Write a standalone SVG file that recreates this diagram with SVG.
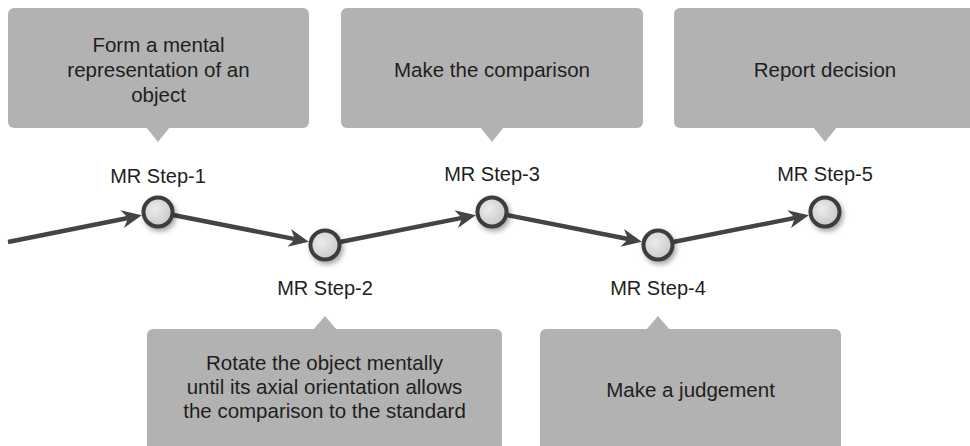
<svg xmlns="http://www.w3.org/2000/svg" width="970" height="446" viewBox="0 0 970 446">
<defs>
<style>
.box{fill:#b2b2b2}
.txt{font-family:"Liberation Sans",Arial,sans-serif;font-size:20.5px;fill:#1e1e1e;text-anchor:middle}
.lbl{font-family:"Liberation Sans",Arial,sans-serif;font-size:20px;fill:#1e1e1e;text-anchor:middle}
.conn{stroke:#444;stroke-width:4.5;fill:none;marker-end:url(#ah)}
.node{fill:url(#ng);stroke:#3c3c3c;stroke-width:4;filter:url(#sh)}
</style>
<radialGradient id="ng" cx="0.4" cy="0.4" r="0.7">
<stop offset="0" stop-color="#ececec"/>
<stop offset="1" stop-color="#c4c4c4"/>
</radialGradient>
<filter id="sh" x="-50%" y="-50%" width="200%" height="200%">
<feDropShadow dx="2" dy="3" stdDeviation="2.5" flood-color="#000" flood-opacity="0.35"/>
</filter>
<marker id="ah" markerUnits="userSpaceOnUse" viewBox="0 -10 22 20" refX="6" refY="0" markerWidth="22" markerHeight="20" orient="auto">
<path d="M0,-9 L20,0 L0,9 L6,0 Z" fill="#444"/>
</marker>
</defs>

<g id="callout-1">
<rect class="box" x="8" y="8" width="301" height="120" rx="6"/>
<polygon class="box" points="146,127 170,127 158,142"/>
<text class="txt" x="158.5" y="52">Form a mental</text>
<text class="txt" x="158.5" y="77">representation of an</text>
<text class="txt" x="158.5" y="102">object</text>
</g>
<g id="callout-3">
<rect class="box" x="341" y="8" width="302" height="120" rx="6"/>
<polygon class="box" points="480,127 504,127 492,142"/>
<text class="txt" x="492" y="77">Make the comparison</text>
</g>
<g id="callout-5">
<rect class="box" x="674" y="8" width="302" height="120" rx="6"/>
<polygon class="box" points="813,127 837,127 825,142"/>
<text class="txt" x="825" y="77">Report decision</text>
</g>
<g id="callout-2">
<rect class="box" x="147" y="329" width="355" height="122" rx="6"/>
<polygon class="box" points="313,330 337,330 325,316"/>
<text class="txt" x="324.5" y="370">Rotate the object mentally</text>
<text class="txt" x="324.5" y="394">until its axial orientation allows</text>
<text class="txt" x="324.5" y="418">the comparison to the standard</text>
</g>
<g id="callout-4">
<rect class="box" x="540" y="329" width="301" height="122" rx="6"/>
<polygon class="box" points="646,330 670,330 658,316"/>
<text class="txt" x="690.5" y="397">Make a judgement</text>
</g>

<g id="connectors">
<line class="conn" x1="8" y1="242" x2="128.1" y2="218"/>
<line class="conn" x1="158" y1="212" x2="295.08" y2="239.09"/>
<line class="conn" x1="325" y1="245" x2="462.08" y2="217.91"/>
<line class="conn" x1="492" y1="212" x2="628.09" y2="239.05"/>
<line class="conn" x1="658" y1="245" x2="795.08" y2="217.91"/>
</g>

<g id="step-1">
<circle class="node" cx="158" cy="212" r="14.5"/>
<text class="lbl" x="158" y="183">MR Step-1</text>
</g>
<g id="step-2">
<circle class="node" cx="325" cy="245" r="14.5"/>
<text class="lbl" x="325" y="295">MR Step-2</text>
</g>
<g id="step-3">
<circle class="node" cx="492" cy="212" r="14.5"/>
<text class="lbl" x="492" y="181">MR Step-3</text>
</g>
<g id="step-4">
<circle class="node" cx="658" cy="245" r="14.5"/>
<text class="lbl" x="658" y="295">MR Step-4</text>
</g>
<g id="step-5">
<circle class="node" cx="825" cy="212" r="14.5"/>
<text class="lbl" x="825" y="181">MR Step-5</text>
</g>
</svg>
